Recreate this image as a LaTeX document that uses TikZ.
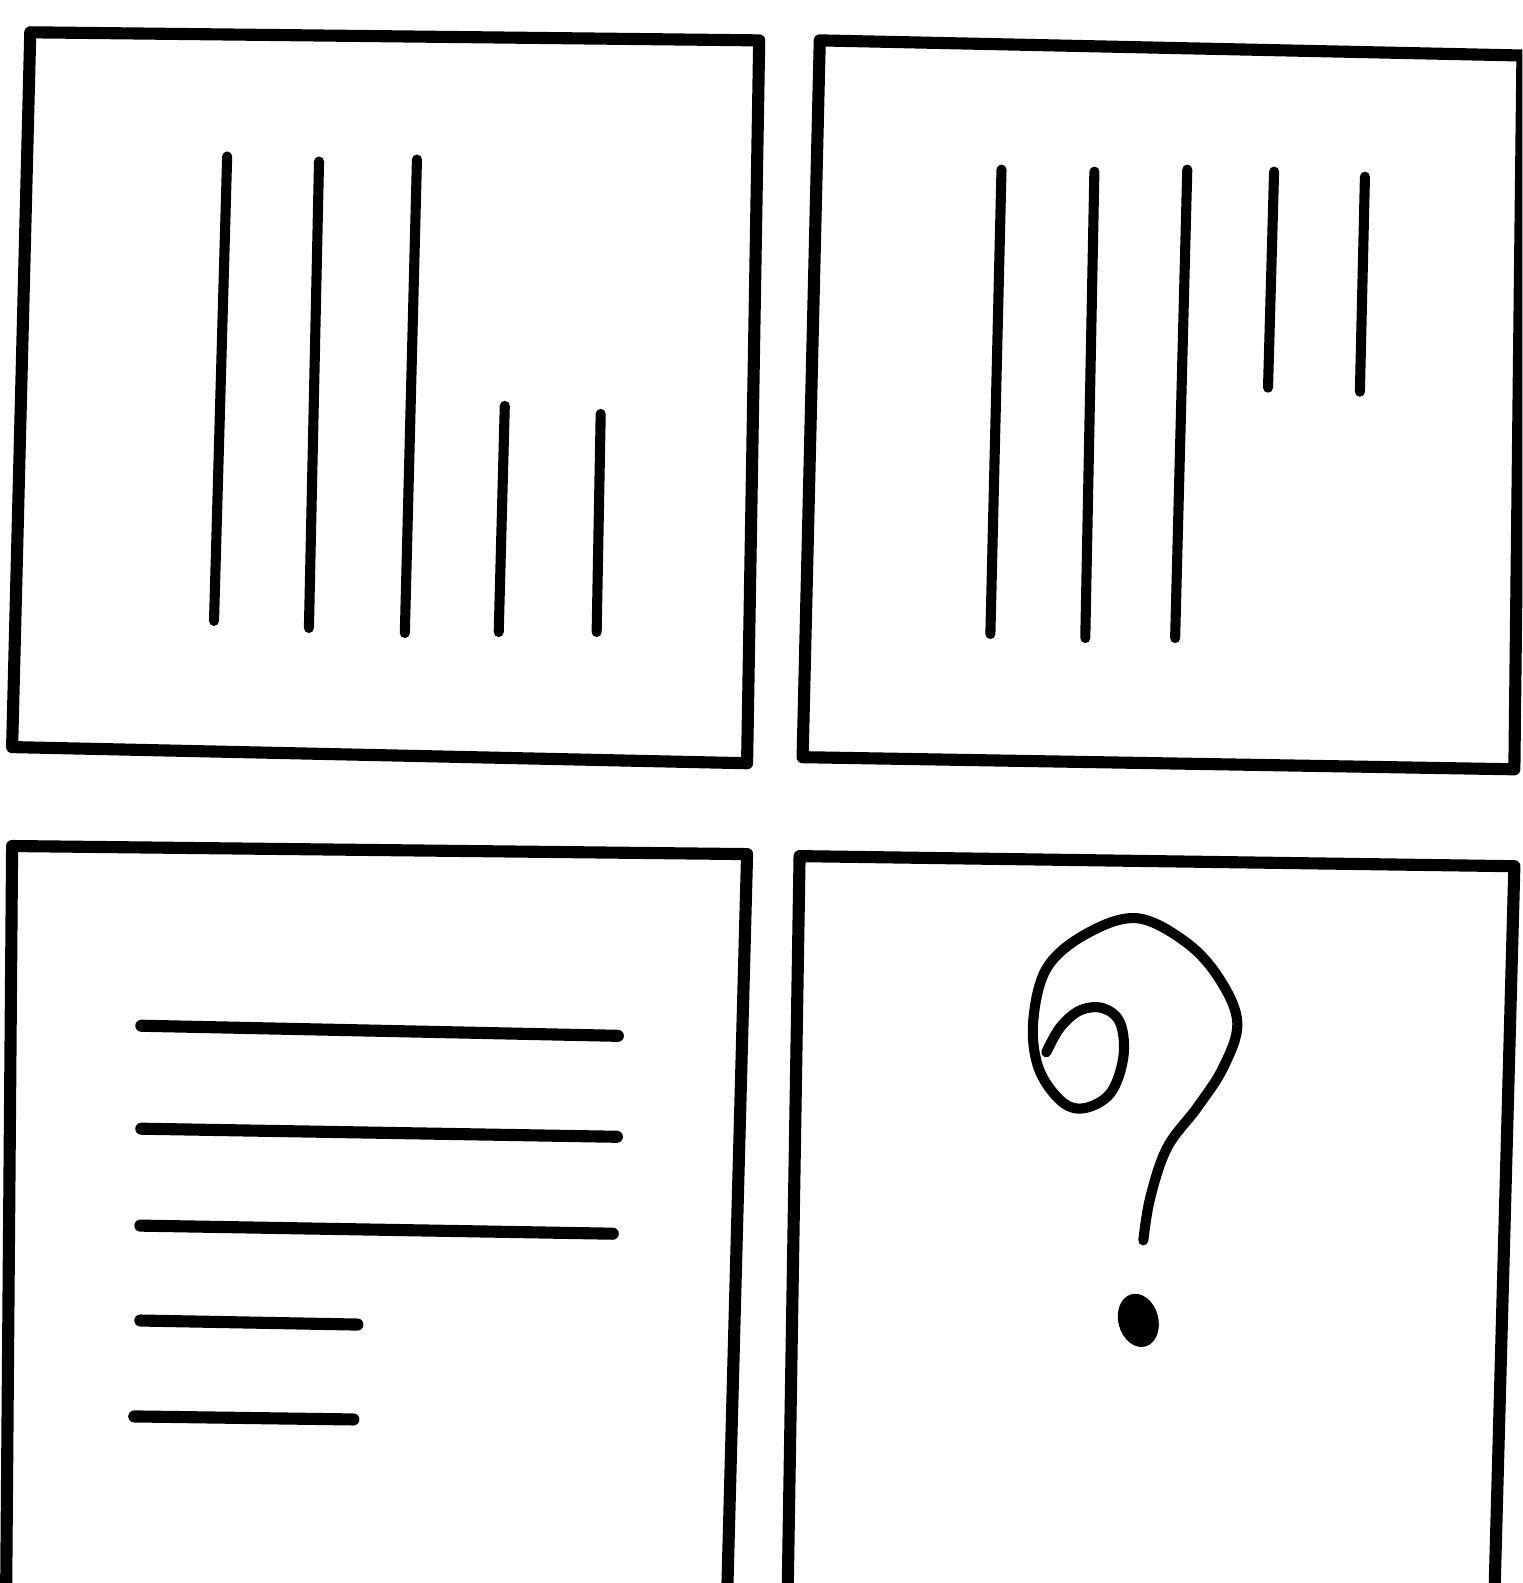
\documentclass[tikz,border=0pt]{standalone}
\begin{document}
\begin{tikzpicture}[x=1pt,y=-1pt,
  frame/.style={line width=12pt,line join=round,line cap=round},
  bar/.style={line width=10pt,line cap=round},
  hbar/.style={line width=12pt,line cap=round},
  qline/.style={line width=10pt,line cap=round,line join=round}]
\useasboundingbox (0,0) rectangle (1508,1568);
\begin{scope}
\clip (0,0) rectangle (1508,1568);
% top-left box
\draw[frame] (30,32) -- (752,40) -- (740,756) -- (12,740) -- cycle;
\draw[bar] (225,155) -- (212,615);
\draw[bar] (316,160) -- (306,622);
\draw[bar] (413,158) -- (401,627);
\draw[bar] (500,402) -- (494,626);
\draw[bar] (595,410) -- (591,626);
% top-right box
\draw[frame] (812,40) -- (1508,55) -- (1500,762) -- (795,750) -- cycle;
\draw[bar] (992,168) -- (981,628);
\draw[bar] (1084,170) -- (1075,632);
\draw[bar] (1176,168) -- (1164,632);
\draw[bar] (1262,170) -- (1256,384);
\draw[bar] (1352,175) -- (1347,388);
% bottom-left box
\draw[frame] (6,1590) -- (12,838) -- (740,846) -- (720,1590);
\draw[hbar] (140,1016) -- (612,1026);
\draw[hbar] (140,1118) -- (611,1126);
\draw[hbar] (139,1214) -- (607,1222);
\draw[hbar] (139,1308) -- (354,1312);
\draw[hbar] (133,1403) -- (350,1406);
% bottom-right box
\draw[frame] (780,1590) -- (792,848) -- (1500,858) -- (1480,1590);
% question mark
\begin{scope}[scale=0.9908]
\draw[qline] plot[smooth,tension=0.6] coordinates {
 (1143,1240) (1150,1197) (1167,1147) (1197,1107) (1223,1067) (1237,1023)
 (1220,980) (1187,943) (1137,918) (1087,933) (1047,967) (1033,1020)
 (1038,1067) (1060,1100) (1083,1108) (1110,1093) (1123,1057) (1120,1023)
 (1103,1008) (1080,1010) (1060,1027) (1046,1052)};
\fill[rotate around={15:(1138,1320)}] (1138,1320) ellipse [x radius=20, y radius=27];
\end{scope}
\end{scope}
\end{tikzpicture}
\end{document}
